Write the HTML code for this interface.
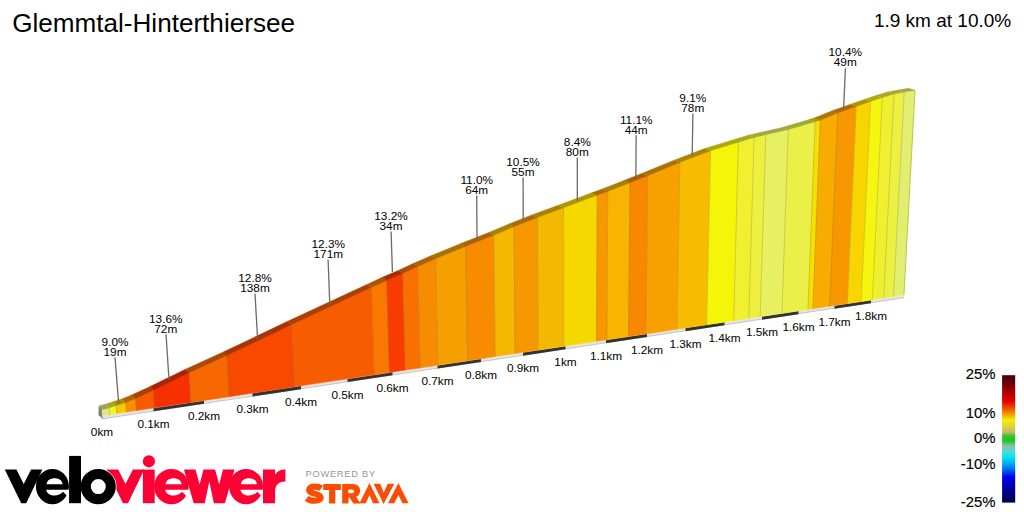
<!DOCTYPE html>
<html><head><meta charset="utf-8"><title>Glemmtal-Hinterthiersee</title>
<style>
html,body{margin:0;padding:0;background:#fff;}
body{width:1024px;height:512px;overflow:hidden;font-family:"Liberation Sans",sans-serif;}
svg{display:block;}
</style></head><body>
<svg width="1024" height="512" viewBox="0 0 1024 512">
<rect width="1024" height="512" fill="#fff"/>
<text x="12.2" y="31.7" font-family="Liberation Sans, sans-serif" font-size="26.1" fill="#000">Glemmtal-Hinterthiersee</text>
<text x="1011.2" y="26.9" font-family="Liberation Sans, sans-serif" font-size="19.0" fill="#000" text-anchor="end">1.9 km at 10.0%</text>
<polygon points="102.45,415.73 903.94,295.01 903.94,297.71 103.05,418.73" fill="#e4e4ea"/>
<polyline points="103.05,418.73 903.94,297.71" fill="none" stroke="#b8b8bc" stroke-width="0.8"/>
<polygon points="153.50,408.24 204.00,400.64 204.00,403.74 153.50,411.34" fill="#333333"/>
<polygon points="252.50,393.33 301.00,386.03 301.00,389.13 252.50,396.43" fill="#333333"/>
<polygon points="347.50,379.02 392.50,372.24 392.50,375.34 347.50,382.12" fill="#333333"/>
<polygon points="437.50,365.47 481.00,358.91 481.00,362.01 437.50,368.57" fill="#333333"/>
<polygon points="523.00,352.59 565.50,346.19 565.50,349.29 523.00,355.69" fill="#333333"/>
<polygon points="606.00,340.09 647.00,333.91 647.00,337.01 606.00,343.19" fill="#333333"/>
<polygon points="685.50,328.11 724.50,322.24 724.50,325.34 685.50,331.21" fill="#333333"/>
<polygon points="762.00,316.59 798.50,311.09 798.50,314.19 762.00,319.69" fill="#333333"/>
<polygon points="834.50,305.67 871.00,300.17 871.00,303.27 834.50,308.77" fill="#333333"/>
<polygon points="98.70,405.90 102.00,409.80 102.75,417.73 98.50,415.33" fill="#7c7c7c"/>
<polygon points="98.50,415.33 102.75,417.73 103.35,419.93" fill="#9a9a9a"/>
<polygon points="102.00,409.80 109.10,407.90 109.61,414.65 102.45,415.73" fill="#dcea80" stroke="#dcea80" stroke-width="0.5"/>
<polygon points="109.10,407.90 116.10,405.70 116.69,413.59 109.61,414.65" fill="#f0f428" stroke="#f0f428" stroke-width="0.5"/>
<polygon points="116.10,405.70 125.80,402.50 126.50,412.11 116.69,413.59" fill="#f8c800" stroke="#f8c800" stroke-width="0.5"/>
<polygon points="125.80,402.50 135.60,398.60 136.45,410.61 126.50,412.11" fill="#f98e00" stroke="#f98e00" stroke-width="0.5"/>
<polygon points="135.60,398.60 153.60,390.30 154.79,407.85 136.45,410.61" fill="#f85a00" stroke="#f85a00" stroke-width="0.5"/>
<polygon points="153.60,390.30 189.20,372.80 191.03,402.39 154.79,407.85" fill="#f73000" stroke="#f73000" stroke-width="0.5"/>
<polygon points="189.20,372.80 227.00,355.60 229.28,396.63 191.03,402.39" fill="#f76800" stroke="#f76800" stroke-width="0.5"/>
<polygon points="227.00,355.60 291.70,324.70 294.49,386.81 229.28,396.63" fill="#f74a00" stroke="#f74a00" stroke-width="0.5"/>
<polygon points="291.70,324.70 371.30,287.60 374.08,374.82 294.49,386.81" fill="#f85c00" stroke="#f85c00" stroke-width="0.5"/>
<polygon points="371.30,287.60 386.80,280.40 389.50,372.50 374.08,374.82" fill="#f87800" stroke="#f87800" stroke-width="0.5"/>
<polygon points="386.80,280.40 402.80,273.60 405.38,370.10 389.50,372.50" fill="#f83c00" stroke="#f83c00" stroke-width="0.5"/>
<polygon points="402.80,273.60 417.70,266.60 420.16,367.88 405.38,370.10" fill="#f87000" stroke="#f87000" stroke-width="0.5"/>
<polygon points="417.70,266.60 435.60,258.75 437.88,365.21 420.16,367.88" fill="#f78c00" stroke="#f78c00" stroke-width="0.5"/>
<polygon points="435.60,258.75 465.70,246.40 467.59,360.73 437.88,365.21" fill="#f5a000" stroke="#f5a000" stroke-width="0.5"/>
<polygon points="465.70,246.40 493.80,235.30 495.26,356.57 467.59,360.73" fill="#f88c00" stroke="#f88c00" stroke-width="0.5"/>
<polygon points="493.80,235.30 514.00,226.70 515.11,353.58 495.26,356.57" fill="#f5b800" stroke="#f5b800" stroke-width="0.5"/>
<polygon points="514.00,226.70 537.50,217.50 538.16,350.10 515.11,353.58" fill="#f89800" stroke="#f89800" stroke-width="0.5"/>
<polygon points="537.50,217.50 563.60,207.80 563.72,346.25 538.16,350.10" fill="#f5b800" stroke="#f5b800" stroke-width="0.5"/>
<polygon points="563.60,207.80 597.20,195.30 596.55,341.31 563.72,346.25" fill="#f5d800" stroke="#f5d800" stroke-width="0.5"/>
<polygon points="597.20,195.30 607.80,191.40 606.89,339.75 596.55,341.31" fill="#f89800" stroke="#f89800" stroke-width="0.5"/>
<polygon points="607.80,191.40 630.00,182.80 628.52,336.49 606.89,339.75" fill="#f7b400" stroke="#f7b400" stroke-width="0.5"/>
<polygon points="630.00,182.80 647.70,175.80 645.73,333.90 628.52,336.49" fill="#f88800" stroke="#f88800" stroke-width="0.5"/>
<polygon points="647.70,175.80 679.80,162.50 676.89,329.21 645.73,333.90" fill="#f7a000" stroke="#f7a000" stroke-width="0.5"/>
<polygon points="679.80,162.50 710.60,150.80 706.72,324.71 676.89,329.21" fill="#f7bc00" stroke="#f7bc00" stroke-width="0.5"/>
<polygon points="710.60,150.80 738.40,142.20 733.65,320.66 706.72,324.71" fill="#f5f50a" stroke="#f5f50a" stroke-width="0.5"/>
<polygon points="738.40,142.20 754.10,137.50 748.84,318.37 733.65,320.66" fill="#f0f030" stroke="#f0f030" stroke-width="0.5"/>
<polygon points="754.10,137.50 765.80,134.70 760.17,316.66 748.84,318.37" fill="#eef040" stroke="#eef040" stroke-width="0.5"/>
<polygon points="765.80,134.70 788.30,129.60 781.97,313.38 760.17,316.66" fill="#e6f060" stroke="#e6f060" stroke-width="0.5"/>
<polygon points="788.30,129.60 815.20,121.70 807.95,309.47 781.97,313.38" fill="#eaf048" stroke="#eaf048" stroke-width="0.5"/>
<polygon points="815.20,121.70 820.30,120.20 812.87,308.73 807.95,309.47" fill="#f5e000" stroke="#f5e000" stroke-width="0.5"/>
<polygon points="820.30,120.20 837.80,113.10 829.67,306.20 812.87,308.73" fill="#f8ac00" stroke="#f8ac00" stroke-width="0.5"/>
<polygon points="837.80,113.10 856.25,106.40 847.39,303.53 829.67,306.20" fill="#f89800" stroke="#f89800" stroke-width="0.5"/>
<polygon points="856.25,106.40 870.60,101.40 861.17,301.45 847.39,303.53" fill="#f8d400" stroke="#f8d400" stroke-width="0.5"/>
<polygon points="870.60,101.40 882.30,97.50 872.40,299.76 861.17,301.45" fill="#f5f510" stroke="#f5f510" stroke-width="0.5"/>
<polygon points="882.30,97.50 894.00,94.00 883.65,298.07 872.40,299.76" fill="#f0f030" stroke="#f0f030" stroke-width="0.5"/>
<polygon points="894.00,94.00 904.20,92.00 893.50,296.58 883.65,298.07" fill="#ecf040" stroke="#ecf040" stroke-width="0.5"/>
<polygon points="904.20,92.00 915.00,90.20 903.94,295.01 893.50,296.58" fill="#e2ee70" stroke="#e2ee70" stroke-width="0.5"/>
<polygon points="98.70,405.90 105.77,404.02 109.10,407.90 102.00,409.80" fill="#9aa359" stroke="#9aa359" stroke-width="0.4"/>
<polygon points="105.77,404.02 112.74,401.83 116.10,405.70 109.10,407.90" fill="#a8aa1c" stroke="#a8aa1c" stroke-width="0.4"/>
<polygon points="112.74,401.83 122.39,398.66 125.80,402.50 116.10,405.70" fill="#ad8c00" stroke="#ad8c00" stroke-width="0.4"/>
<polygon points="122.39,398.66 132.14,394.78 135.60,398.60 125.80,402.50" fill="#ae6300" stroke="#ae6300" stroke-width="0.4"/>
<polygon points="132.14,394.78 150.06,386.54 153.60,390.30 135.60,398.60" fill="#ad3e00" stroke="#ad3e00" stroke-width="0.4"/>
<polygon points="150.06,386.54 185.50,369.15 189.20,372.80 153.60,390.30" fill="#ac2100" stroke="#ac2100" stroke-width="0.4"/>
<polygon points="185.50,369.15 223.13,352.06 227.00,355.60 189.20,372.80" fill="#ac4800" stroke="#ac4800" stroke-width="0.4"/>
<polygon points="223.13,352.06 287.54,321.36 291.70,324.70 227.00,355.60" fill="#ac3300" stroke="#ac3300" stroke-width="0.4"/>
<polygon points="287.54,321.36 366.79,284.49 371.30,287.60 291.70,324.70" fill="#ad4000" stroke="#ad4000" stroke-width="0.4"/>
<polygon points="366.79,284.49 382.23,277.33 386.80,280.40 371.30,287.60" fill="#ad5400" stroke="#ad5400" stroke-width="0.4"/>
<polygon points="382.23,277.33 398.16,270.58 402.80,273.60 386.80,280.40" fill="#ad2a00" stroke="#ad2a00" stroke-width="0.4"/>
<polygon points="398.16,270.58 413.00,263.62 417.70,266.60 402.80,273.60" fill="#ad4e00" stroke="#ad4e00" stroke-width="0.4"/>
<polygon points="413.00,263.62 430.82,255.82 435.60,258.75 417.70,266.60" fill="#ac6200" stroke="#ac6200" stroke-width="0.4"/>
<polygon points="430.82,255.82 460.80,243.54 465.70,246.40 435.60,258.75" fill="#ab7000" stroke="#ab7000" stroke-width="0.4"/>
<polygon points="460.80,243.54 488.78,232.51 493.80,235.30 465.70,246.40" fill="#ad6200" stroke="#ad6200" stroke-width="0.4"/>
<polygon points="488.78,232.51 508.90,223.96 514.00,226.70 493.80,235.30" fill="#ab8000" stroke="#ab8000" stroke-width="0.4"/>
<polygon points="508.90,223.96 532.31,214.82 537.50,217.50 514.00,226.70" fill="#ad6a00" stroke="#ad6a00" stroke-width="0.4"/>
<polygon points="532.31,214.82 558.31,205.18 563.60,207.80 537.50,217.50" fill="#ab8000" stroke="#ab8000" stroke-width="0.4"/>
<polygon points="558.31,205.18 591.78,192.76 597.20,195.30 563.60,207.80" fill="#ab9700" stroke="#ab9700" stroke-width="0.4"/>
<polygon points="591.78,192.76 602.33,188.88 607.80,191.40 597.20,195.30" fill="#ad6a00" stroke="#ad6a00" stroke-width="0.4"/>
<polygon points="602.33,188.88 624.45,180.33 630.00,182.80 607.80,191.40" fill="#ac7d00" stroke="#ac7d00" stroke-width="0.4"/>
<polygon points="624.45,180.33 642.08,173.37 647.70,175.80 630.00,182.80" fill="#ad5f00" stroke="#ad5f00" stroke-width="0.4"/>
<polygon points="642.08,173.37 674.06,160.15 679.80,162.50 647.70,175.80" fill="#ac7000" stroke="#ac7000" stroke-width="0.4"/>
<polygon points="674.06,160.15 704.75,148.52 710.60,150.80 679.80,162.50" fill="#ac8300" stroke="#ac8300" stroke-width="0.4"/>
<polygon points="704.75,148.52 732.45,139.97 738.40,142.20 710.60,150.80" fill="#abab07" stroke="#abab07" stroke-width="0.4"/>
<polygon points="732.45,139.97 748.09,135.30 754.10,137.50 738.40,142.20" fill="#a8a821" stroke="#a8a821" stroke-width="0.4"/>
<polygon points="748.09,135.30 759.75,132.52 765.80,134.70 754.10,137.50" fill="#a6a82c" stroke="#a6a82c" stroke-width="0.4"/>
<polygon points="759.75,132.52 782.17,127.45 788.30,129.60 765.80,134.70" fill="#a1a843" stroke="#a1a843" stroke-width="0.4"/>
<polygon points="782.17,127.45 808.97,119.60 815.20,121.70 788.30,129.60" fill="#a3a832" stroke="#a3a832" stroke-width="0.4"/>
<polygon points="808.97,119.60 814.06,118.11 820.30,120.20 815.20,121.70" fill="#ab9c00" stroke="#ab9c00" stroke-width="0.4"/>
<polygon points="814.06,118.11 831.50,111.05 837.80,113.10 820.30,120.20" fill="#ad7800" stroke="#ad7800" stroke-width="0.4"/>
<polygon points="831.50,111.05 849.88,104.38 856.25,106.40 837.80,113.10" fill="#ad6a00" stroke="#ad6a00" stroke-width="0.4"/>
<polygon points="849.88,104.38 864.18,99.41 870.60,101.40 856.25,106.40" fill="#ad9400" stroke="#ad9400" stroke-width="0.4"/>
<polygon points="864.18,99.41 875.84,95.53 882.30,97.50 870.60,101.40" fill="#abab0b" stroke="#abab0b" stroke-width="0.4"/>
<polygon points="875.84,95.53 887.50,92.05 894.00,94.00 882.30,97.50" fill="#a8a821" stroke="#a8a821" stroke-width="0.4"/>
<polygon points="887.50,92.05 897.67,90.07 904.20,92.00 894.00,94.00" fill="#a5a82c" stroke="#a5a82c" stroke-width="0.4"/>
<polygon points="897.67,90.07 908.43,88.28 915.00,90.20 904.20,92.00" fill="#9ea64e" stroke="#9ea64e" stroke-width="0.4"/>
<line x1="109.10" y1="407.90" x2="109.61" y2="414.65" stroke="#6a5a28" stroke-opacity="0.28" stroke-width="0.9"/>
<line x1="116.10" y1="405.70" x2="116.69" y2="413.59" stroke="#6a5a28" stroke-opacity="0.28" stroke-width="0.9"/>
<line x1="125.80" y1="402.50" x2="126.50" y2="412.11" stroke="#6a5a28" stroke-opacity="0.28" stroke-width="0.9"/>
<line x1="135.60" y1="398.60" x2="136.45" y2="410.61" stroke="#6a5a28" stroke-opacity="0.28" stroke-width="0.9"/>
<line x1="153.60" y1="390.30" x2="154.79" y2="407.85" stroke="#6a5a28" stroke-opacity="0.28" stroke-width="0.9"/>
<line x1="189.20" y1="372.80" x2="191.03" y2="402.39" stroke="#6a5a28" stroke-opacity="0.28" stroke-width="0.9"/>
<line x1="227.00" y1="355.60" x2="229.28" y2="396.63" stroke="#6a5a28" stroke-opacity="0.28" stroke-width="0.9"/>
<line x1="291.70" y1="324.70" x2="294.49" y2="386.81" stroke="#6a5a28" stroke-opacity="0.28" stroke-width="0.9"/>
<line x1="371.30" y1="287.60" x2="374.08" y2="374.82" stroke="#6a5a28" stroke-opacity="0.28" stroke-width="0.9"/>
<line x1="386.80" y1="280.40" x2="389.50" y2="372.50" stroke="#6a5a28" stroke-opacity="0.28" stroke-width="0.9"/>
<line x1="402.80" y1="273.60" x2="405.38" y2="370.10" stroke="#6a5a28" stroke-opacity="0.28" stroke-width="0.9"/>
<line x1="417.70" y1="266.60" x2="420.16" y2="367.88" stroke="#6a5a28" stroke-opacity="0.28" stroke-width="0.9"/>
<line x1="435.60" y1="258.75" x2="437.88" y2="365.21" stroke="#6a5a28" stroke-opacity="0.28" stroke-width="0.9"/>
<line x1="465.70" y1="246.40" x2="467.59" y2="360.73" stroke="#6a5a28" stroke-opacity="0.28" stroke-width="0.9"/>
<line x1="493.80" y1="235.30" x2="495.26" y2="356.57" stroke="#6a5a28" stroke-opacity="0.28" stroke-width="0.9"/>
<line x1="514.00" y1="226.70" x2="515.11" y2="353.58" stroke="#6a5a28" stroke-opacity="0.28" stroke-width="0.9"/>
<line x1="537.50" y1="217.50" x2="538.16" y2="350.10" stroke="#6a5a28" stroke-opacity="0.28" stroke-width="0.9"/>
<line x1="563.60" y1="207.80" x2="563.72" y2="346.25" stroke="#6a5a28" stroke-opacity="0.28" stroke-width="0.9"/>
<line x1="597.20" y1="195.30" x2="596.55" y2="341.31" stroke="#6a5a28" stroke-opacity="0.28" stroke-width="0.9"/>
<line x1="607.80" y1="191.40" x2="606.89" y2="339.75" stroke="#6a5a28" stroke-opacity="0.28" stroke-width="0.9"/>
<line x1="630.00" y1="182.80" x2="628.52" y2="336.49" stroke="#6a5a28" stroke-opacity="0.28" stroke-width="0.9"/>
<line x1="647.70" y1="175.80" x2="645.73" y2="333.90" stroke="#6a5a28" stroke-opacity="0.28" stroke-width="0.9"/>
<line x1="679.80" y1="162.50" x2="676.89" y2="329.21" stroke="#6a5a28" stroke-opacity="0.28" stroke-width="0.9"/>
<line x1="710.60" y1="150.80" x2="706.72" y2="324.71" stroke="#6a5a28" stroke-opacity="0.28" stroke-width="0.9"/>
<line x1="738.40" y1="142.20" x2="733.65" y2="320.66" stroke="#6a5a28" stroke-opacity="0.28" stroke-width="0.9"/>
<line x1="754.10" y1="137.50" x2="748.84" y2="318.37" stroke="#6a5a28" stroke-opacity="0.28" stroke-width="0.9"/>
<line x1="765.80" y1="134.70" x2="760.17" y2="316.66" stroke="#6a5a28" stroke-opacity="0.28" stroke-width="0.9"/>
<line x1="788.30" y1="129.60" x2="781.97" y2="313.38" stroke="#6a5a28" stroke-opacity="0.28" stroke-width="0.9"/>
<line x1="815.20" y1="121.70" x2="807.95" y2="309.47" stroke="#6a5a28" stroke-opacity="0.28" stroke-width="0.9"/>
<line x1="820.30" y1="120.20" x2="812.87" y2="308.73" stroke="#6a5a28" stroke-opacity="0.28" stroke-width="0.9"/>
<line x1="837.80" y1="113.10" x2="829.67" y2="306.20" stroke="#6a5a28" stroke-opacity="0.28" stroke-width="0.9"/>
<line x1="856.25" y1="106.40" x2="847.39" y2="303.53" stroke="#6a5a28" stroke-opacity="0.28" stroke-width="0.9"/>
<line x1="870.60" y1="101.40" x2="861.17" y2="301.45" stroke="#6a5a28" stroke-opacity="0.28" stroke-width="0.9"/>
<line x1="882.30" y1="97.50" x2="872.40" y2="299.76" stroke="#6a5a28" stroke-opacity="0.28" stroke-width="0.9"/>
<line x1="894.00" y1="94.00" x2="883.65" y2="298.07" stroke="#6a5a28" stroke-opacity="0.28" stroke-width="0.9"/>
<line x1="904.20" y1="92.00" x2="893.50" y2="296.58" stroke="#6a5a28" stroke-opacity="0.28" stroke-width="0.9"/>
<line x1="915.00" y1="90.20" x2="903.94" y2="295.01" stroke="#b8b840" stroke-opacity="0.8" stroke-width="1"/>
<line x1="115.0" y1="357.3" x2="118.7" y2="403.9" stroke="#6a6a6a" stroke-width="1.3"/>
<text transform="translate(115.0,345.5) scale(1.160,1)" font-family="Liberation Sans, sans-serif" font-size="10.2" fill="#000" text-anchor="middle">9.0%</text>
<text transform="translate(115.0,355.6) scale(1.160,1)" font-family="Liberation Sans, sans-serif" font-size="10.2" fill="#000" text-anchor="middle">19m</text>
<line x1="166.0" y1="334.3" x2="169.0" y2="379.6" stroke="#6a6a6a" stroke-width="1.3"/>
<text transform="translate(165.8,322.6) scale(1.160,1)" font-family="Liberation Sans, sans-serif" font-size="10.2" fill="#000" text-anchor="middle">13.6%</text>
<text transform="translate(165.8,332.7) scale(1.160,1)" font-family="Liberation Sans, sans-serif" font-size="10.2" fill="#000" text-anchor="middle">72m</text>
<line x1="255.0" y1="293.6" x2="257.6" y2="338.9" stroke="#6a6a6a" stroke-width="1.3"/>
<text transform="translate(255.0,281.7) scale(1.160,1)" font-family="Liberation Sans, sans-serif" font-size="10.2" fill="#000" text-anchor="middle">12.8%</text>
<text transform="translate(255.0,291.8) scale(1.160,1)" font-family="Liberation Sans, sans-serif" font-size="10.2" fill="#000" text-anchor="middle">138m</text>
<line x1="328.1" y1="259.7" x2="329.8" y2="304.7" stroke="#6a6a6a" stroke-width="1.3"/>
<text transform="translate(328.3,247.5) scale(1.160,1)" font-family="Liberation Sans, sans-serif" font-size="10.2" fill="#000" text-anchor="middle">12.3%</text>
<text transform="translate(328.3,257.6) scale(1.160,1)" font-family="Liberation Sans, sans-serif" font-size="10.2" fill="#000" text-anchor="middle">171m</text>
<line x1="391.1" y1="231.4" x2="392.4" y2="272.0" stroke="#6a6a6a" stroke-width="1.3"/>
<text transform="translate(391.0,219.7) scale(1.160,1)" font-family="Liberation Sans, sans-serif" font-size="10.2" fill="#000" text-anchor="middle">13.2%</text>
<text transform="translate(391.0,229.8) scale(1.160,1)" font-family="Liberation Sans, sans-serif" font-size="10.2" fill="#000" text-anchor="middle">34m</text>
<line x1="476.7" y1="195.6" x2="477.0" y2="240.2" stroke="#6a6a6a" stroke-width="1.3"/>
<text transform="translate(476.7,184.2) scale(1.160,1)" font-family="Liberation Sans, sans-serif" font-size="10.2" fill="#000" text-anchor="middle">11.0%</text>
<text transform="translate(476.7,193.5) scale(1.160,1)" font-family="Liberation Sans, sans-serif" font-size="10.2" fill="#000" text-anchor="middle">64m</text>
<line x1="523.1" y1="177.6" x2="523.2" y2="221.2" stroke="#6a6a6a" stroke-width="1.3"/>
<text transform="translate(523.0,165.6) scale(1.160,1)" font-family="Liberation Sans, sans-serif" font-size="10.2" fill="#000" text-anchor="middle">10.5%</text>
<text transform="translate(523.0,175.7) scale(1.160,1)" font-family="Liberation Sans, sans-serif" font-size="10.2" fill="#000" text-anchor="middle">55m</text>
<line x1="577.3" y1="157.6" x2="577.3" y2="200.8" stroke="#6a6a6a" stroke-width="1.3"/>
<text transform="translate(577.3,145.8) scale(1.160,1)" font-family="Liberation Sans, sans-serif" font-size="10.2" fill="#000" text-anchor="middle">8.4%</text>
<text transform="translate(577.3,155.9) scale(1.160,1)" font-family="Liberation Sans, sans-serif" font-size="10.2" fill="#000" text-anchor="middle">80m</text>
<line x1="636.1" y1="135.3" x2="635.9" y2="179.0" stroke="#6a6a6a" stroke-width="1.3"/>
<text transform="translate(636.2,123.5) scale(1.160,1)" font-family="Liberation Sans, sans-serif" font-size="10.2" fill="#000" text-anchor="middle">11.1%</text>
<text transform="translate(636.2,133.6) scale(1.160,1)" font-family="Liberation Sans, sans-serif" font-size="10.2" fill="#000" text-anchor="middle">44m</text>
<line x1="692.9" y1="113.5" x2="692.2" y2="155.6" stroke="#6a6a6a" stroke-width="1.3"/>
<text transform="translate(692.8,101.5) scale(1.160,1)" font-family="Liberation Sans, sans-serif" font-size="10.2" fill="#000" text-anchor="middle">9.1%</text>
<text transform="translate(692.8,111.6) scale(1.160,1)" font-family="Liberation Sans, sans-serif" font-size="10.2" fill="#000" text-anchor="middle">78m</text>
<line x1="845.4" y1="68.3" x2="843.6" y2="109.3" stroke="#6a6a6a" stroke-width="1.3"/>
<text transform="translate(845.3,56.0) scale(1.160,1)" font-family="Liberation Sans, sans-serif" font-size="10.2" fill="#000" text-anchor="middle">10.4%</text>
<text transform="translate(845.3,66.1) scale(1.160,1)" font-family="Liberation Sans, sans-serif" font-size="10.2" fill="#000" text-anchor="middle">49m</text>
<text transform="translate(102.0,435.8) scale(1.160,1)" font-family="Liberation Sans, sans-serif" font-size="10.2" fill="#000" text-anchor="middle">0km</text>
<text transform="translate(153.5,428.0) scale(1.160,1)" font-family="Liberation Sans, sans-serif" font-size="10.2" fill="#000" text-anchor="middle">0.1km</text>
<text transform="translate(204.0,420.4) scale(1.160,1)" font-family="Liberation Sans, sans-serif" font-size="10.2" fill="#000" text-anchor="middle">0.2km</text>
<text transform="translate(252.5,413.1) scale(1.160,1)" font-family="Liberation Sans, sans-serif" font-size="10.2" fill="#000" text-anchor="middle">0.3km</text>
<text transform="translate(301.0,405.8) scale(1.160,1)" font-family="Liberation Sans, sans-serif" font-size="10.2" fill="#000" text-anchor="middle">0.4km</text>
<text transform="translate(347.5,398.8) scale(1.160,1)" font-family="Liberation Sans, sans-serif" font-size="10.2" fill="#000" text-anchor="middle">0.5km</text>
<text transform="translate(392.5,392.0) scale(1.160,1)" font-family="Liberation Sans, sans-serif" font-size="10.2" fill="#000" text-anchor="middle">0.6km</text>
<text transform="translate(437.5,385.3) scale(1.160,1)" font-family="Liberation Sans, sans-serif" font-size="10.2" fill="#000" text-anchor="middle">0.7km</text>
<text transform="translate(481.0,378.7) scale(1.160,1)" font-family="Liberation Sans, sans-serif" font-size="10.2" fill="#000" text-anchor="middle">0.8km</text>
<text transform="translate(523.0,372.4) scale(1.160,1)" font-family="Liberation Sans, sans-serif" font-size="10.2" fill="#000" text-anchor="middle">0.9km</text>
<text transform="translate(565.5,366.0) scale(1.160,1)" font-family="Liberation Sans, sans-serif" font-size="10.2" fill="#000" text-anchor="middle">1km</text>
<text transform="translate(606.0,359.9) scale(1.160,1)" font-family="Liberation Sans, sans-serif" font-size="10.2" fill="#000" text-anchor="middle">1.1km</text>
<text transform="translate(647.0,353.7) scale(1.160,1)" font-family="Liberation Sans, sans-serif" font-size="10.2" fill="#000" text-anchor="middle">1.2km</text>
<text transform="translate(685.5,347.9) scale(1.160,1)" font-family="Liberation Sans, sans-serif" font-size="10.2" fill="#000" text-anchor="middle">1.3km</text>
<text transform="translate(724.5,342.0) scale(1.160,1)" font-family="Liberation Sans, sans-serif" font-size="10.2" fill="#000" text-anchor="middle">1.4km</text>
<text transform="translate(762.0,336.4) scale(1.160,1)" font-family="Liberation Sans, sans-serif" font-size="10.2" fill="#000" text-anchor="middle">1.5km</text>
<text transform="translate(798.5,330.9) scale(1.160,1)" font-family="Liberation Sans, sans-serif" font-size="10.2" fill="#000" text-anchor="middle">1.6km</text>
<text transform="translate(834.5,325.5) scale(1.160,1)" font-family="Liberation Sans, sans-serif" font-size="10.2" fill="#000" text-anchor="middle">1.7km</text>
<text transform="translate(871.0,320.0) scale(1.160,1)" font-family="Liberation Sans, sans-serif" font-size="10.2" fill="#000" text-anchor="middle">1.8km</text>
<g fill="#fd0034">
<polygon points="106.60,469.60 118.20,469.60 125.50,484.00 132.90,469.60 144.20,469.60 128.00,503.20 123.00,503.20"/>
<rect x="142.9" y="469.6" width="11.8" height="33.6"/><circle cx="148.9" cy="461.3" r="6.1"/>
<clipPath id="e2"><ellipse cx="171.40" cy="486.6" rx="17.30" ry="17.7"/></clipPath><g clip-path="url(#e2)"><path fill-rule="evenodd" d="M149.4,460 h44 v50 h-44 Z M165.6,484.2 C166.0,476.1 181.2,476.1 181.6,484.2 Z M165.1,489.7 L193.6,489.7 L193.6,497.5 L186.9,496.7 L182.1,491.8 C177.8,496.8 167.2,497.5 165.1,489.7 Z"/></g>
<polygon points="184.00,469.60 195.50,469.60 199.60,484.50 203.50,469.60 215.10,469.60 219.20,484.50 223.00,469.60 234.50,469.60 224.90,503.20 213.90,503.20 209.30,481.50 204.70,503.20 193.70,503.20"/>
<clipPath id="e3"><ellipse cx="246.10" cy="486.6" rx="17.00" ry="17.7"/></clipPath><g clip-path="url(#e3)"><path fill-rule="evenodd" d="M224.1,460 h44 v50 h-44 Z M240.9,484.2 C241.3,476.1 256.5,476.1 256.9,484.2 Z M240.4,489.7 L268.9,489.7 L268.9,497.5 L262.2,496.7 L257.4,491.8 C253.1,496.8 242.5,497.5 240.4,489.7 Z"/></g>
<path d="M263,469.6 h12.1 v5.2 C277.5,471 281,469.2 285.4,469.4 V481.6 C280,481.3 275.1,484.5 275.1,491 V503.2 H263 Z"/>
</g>
<g fill="#000">
<polygon points="4.80,469.60 16.40,469.60 23.70,484.00 31.10,469.60 42.40,469.60 26.20,503.20 21.20,503.20"/>
<clipPath id="e1"><ellipse cx="52.40" cy="486.6" rx="16.50" ry="17.7"/></clipPath><g clip-path="url(#e1)"><path fill-rule="evenodd" d="M30.4,460 h44 v50 h-44 Z M46.6,484.2 C47.0,476.1 62.2,476.1 62.6,484.2 Z M46.1,489.7 L74.6,489.7 L74.6,497.5 L67.9,496.7 L63.1,491.8 C58.8,496.8 48.2,497.5 46.1,489.7 Z"/></g>
<circle cx="98.2" cy="486.6" r="18.3" fill="#fff"/>
<path fill-rule="evenodd" d="M80.6,486.6 a17.6,17.7 0 1,0 35.2,0 a17.6,17.7 0 1,0 -35.2,0 Z M90.8,486.6 a7.5,7.5 0 1,1 15,0 a7.5,7.5 0 1,1 -15,0 Z"/>
<rect x="69.1" y="455.9" width="11.9" height="47.3"/>
</g>
<text x="305.5" y="476.9" font-family="Liberation Sans, sans-serif" font-size="9.3" letter-spacing="0.74" fill="#979797">POWERED BY</text>
<g fill="#fc4c02">
<path fill="none" stroke="#fc4c02" stroke-width="6.1" d="M321.3,488.3 C319.5,487 317,486.6 314.5,486.6 C311,486.6 309.1,488 309.1,489.9 C309.1,492 311.5,492.9 314.5,493.6 C318,494.4 320.7,495.3 320.7,497.6 C320.7,499.8 318,500.7 314.3,500.7 C311.3,500.7 308.6,499.9 306.7,498.3"/>
<polygon points="323.2,484 340.9,484 340.9,490 335.3,490 335.3,503.4 329.1,503.4 329.1,490 323.2,490"/>
<path fill-rule="evenodd" d="M342.2,484 H352.6 C357.6,484 360.1,486.9 360.1,490.7 C360.1,493.6 358.6,495.8 356,496.8 L360.6,503.4 H353.4 L349.6,497.6 H348.4 V503.4 H342.2 Z M348.4,489.6 V493.2 H351.9 C353.3,493.2 354,492.4 354,491.4 C354,490.3 353.3,489.6 351.9,489.6 Z"/>
<polygon points="369.5,483 379.5,503.3 373.2,503.3 369.5,495.1 365.8,503.3 359.5,503.3"/>
<polygon points="373.6,483.8 380.2,483.8 383.75,492.8 387.7,483.8 394.3,483.8 383.6,504.1"/>
<polygon points="398.4,483 408.6,503.3 402.5,503.3 398.4,495.1 394.3,503.3 388,503.3"/>
</g>
<defs><linearGradient id="lg" x1="0" y1="0" x2="0" y2="1">
<stop offset="0" stop-color="#48000c"/><stop offset="0.06" stop-color="#680008"/><stop offset="0.124" stop-color="#a80000"/><stop offset="0.206" stop-color="#e60000"/>
<stop offset="0.273" stop-color="#f06400"/><stop offset="0.352" stop-color="#f0f000"/><stop offset="0.40" stop-color="#dcd830"/><stop offset="0.447" stop-color="#c8b86c"/>
<stop offset="0.478" stop-color="#28cc20"/><stop offset="0.515" stop-color="#20c428"/><stop offset="0.556" stop-color="#88c0b0"/>
<stop offset="0.60" stop-color="#50d8d8"/><stop offset="0.642" stop-color="#00e8f0"/><stop offset="0.716" stop-color="#0090f0"/><stop offset="0.80" stop-color="#0000f0"/>
<stop offset="0.90" stop-color="#000098"/><stop offset="1" stop-color="#000048"/></linearGradient></defs>
<rect x="1002.1" y="375.2" width="13.1" height="127.4" fill="url(#lg)"/><text x="995.5" y="379.2" font-family="Liberation Sans, sans-serif" font-size="14.9" fill="#000" stroke="#000" stroke-width="0.15" text-anchor="end">25%</text>
<text x="995.5" y="418.0" font-family="Liberation Sans, sans-serif" font-size="14.9" fill="#000" stroke="#000" stroke-width="0.15" text-anchor="end">10%</text>
<text x="995.5" y="443.0" font-family="Liberation Sans, sans-serif" font-size="14.9" fill="#000" stroke="#000" stroke-width="0.15" text-anchor="end">0%</text>
<text x="995.5" y="469.1" font-family="Liberation Sans, sans-serif" font-size="14.9" fill="#000" stroke="#000" stroke-width="0.15" text-anchor="end">-10%</text>
<text x="995.5" y="506.7" font-family="Liberation Sans, sans-serif" font-size="14.9" fill="#000" stroke="#000" stroke-width="0.15" text-anchor="end">-25%</text>

</svg>
</body></html>
